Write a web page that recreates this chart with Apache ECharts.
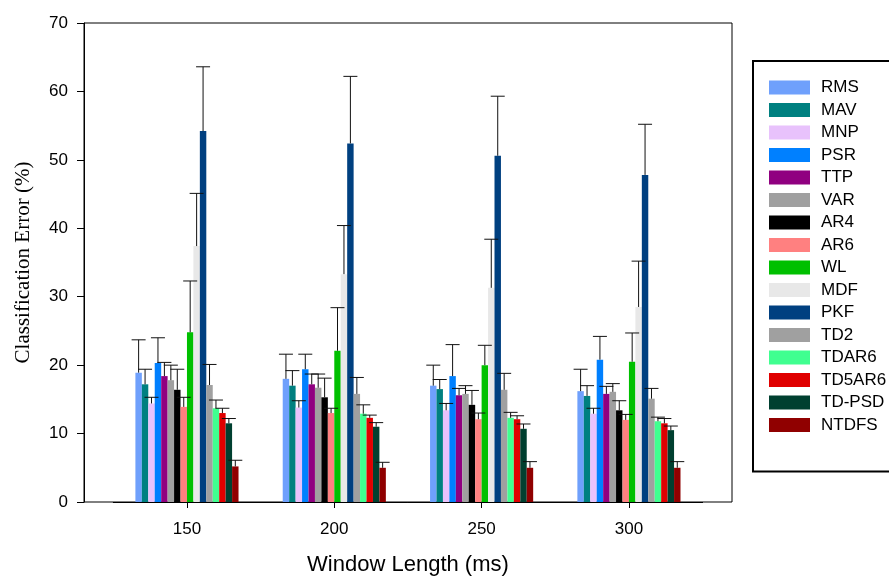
<!DOCTYPE html>
<html>
<head>
<meta charset="utf-8">
<script src="https://cdn.jsdelivr.net/npm/echarts@6/dist/echarts.min.js"></script>
<style>
html,body{margin:0;padding:0;background:#fff;}
#chart{width:889px;height:583px;}
</style>
</head>
<body>
<div id="chart"></div>
<script>
// ---- data ----
const categories = ['150', '200', '250', '300'];
const featureNames = ['RMS','MAV','MNP','PSR','TTP','VAR','AR4','AR6','WL','MDF','PKF','TD2','TDAR6','TD5AR6','TD-PSD','NTDFS'];
// mean classification error (%) per window length
const RMS    = [18.9, 18.0, 17.0, 16.2];
const MAV    = [17.2, 17.0, 16.5, 15.5];
const MNP    = [14.4, 13.8, 13.4, 12.9];
const PSR    = [20.3, 19.4, 18.4, 20.8];
const TTP    = [18.4, 17.2, 15.6, 15.8];
const VAR    = [17.8, 16.7, 15.8, 16.1];
const AR4    = [16.4, 15.3, 14.2, 13.4];
const AR6    = [13.9, 13.0, 12.1, 12.0];
const WL     = [24.8, 22.1, 20.0, 20.5];
const MDF    = [37.4, 33.3, 31.3, 28.5];
const PKF    = [54.2, 52.4, 50.6, 47.8];
const TD2    = [17.1, 15.8, 16.4, 15.1];
const TDAR6  = [13.7, 12.9, 12.3, 11.8];
const TD5AR6 = [13.0, 12.3, 12.1, 11.5];
const TDPSD  = [11.5, 11.0, 10.7, 10.5];
const NTDFS  = [5.2, 5.0, 5.0, 5.0];
// error bar (upper) lengths
const RMS_err    = [4.8, 3.6, 3.0, 3.2];
const MAV_err    = [2.2, 2.2, 1.4, 1.5];
const MNP_err    = [0.9, 1.0, 1.0, 0.8];
const PSR_err    = [3.7, 2.2, 4.6, 3.4];
const TTP_err    = [2.0, 1.5, 1.0, 1.1];
const VAR_err    = [2.2, 2.0, 1.2, 1.2];
const AR4_err    = [3.0, 2.8, 2.1, 1.4];
const AR6_err    = [1.4, 0.7, 0.9, 0.8];
const WL_err     = [7.5, 6.3, 2.9, 4.2];
const MDF_err    = [7.7, 7.1, 7.1, 6.7];
const PKF_err    = [9.4, 9.8, 8.7, 7.4];
const TD2_err    = [3.0, 2.4, 2.4, 1.5];
const TDAR6_err  = [1.2, 1.3, 0.8, 0.6];
const TD5AR6_err = [0.7, 0.4, 0.5, 0.7];
const TDPSD_err  = [0.7, 0.6, 0.7, 0.6];
const NTDFS_err  = [0.9, 0.8, 0.9, 0.9];
const yTicks = [0, 10, 20, 30, 40, 50, 60, 70];

const meanSets = [RMS, MAV, MNP, PSR, TTP, VAR, AR4, AR6, WL, MDF, PKF, TD2, TDAR6, TD5AR6, TDPSD, NTDFS];
const errSets  = [RMS_err, MAV_err, MNP_err, PSR_err, TTP_err, VAR_err, AR4_err, AR6_err, WL_err, MDF_err, PKF_err, TD2_err, TDAR6_err, TD5AR6_err, TDPSD_err, NTDFS_err];
const colors = ['#6fa0fc','#008080','#e8c2fc','#0080ff','#900080','#a0a0a0','#000000','#ff8080','#00c000','#e8e8e8','#004080','#a0a0a0','#40ff90','#e00000','#004030','#900000'];

const N = featureNames.length;
const CAT_GAP = 0.30;

const series = [];
featureNames.forEach((name, i) => {
  series.push({
    name: name,
    type: 'bar',
    xAxisIndex: 1, yAxisIndex: 1,
    data: meanSets[i],
    barGap: 0,
    barCategoryGap: (CAT_GAP * 100) + '%',
    itemStyle: { color: colors[i] },
    silent: true,
    z: 2
  });
});
featureNames.forEach((name, i) => {
  series.push({
    name: 'err-' + name,
    type: 'custom',
    xAxisIndex: 1, yAxisIndex: 1,
    data: meanSets[i].map((m, k) => [k, m, errSets[i][k]]),
    silent: true,
    z: 3,
    renderItem: function (params, api) {
      const c = api.coord([api.value(0), api.value(1)]);
      const t = api.coord([api.value(0), api.value(1) + api.value(2)]);
      const band = api.size([1, 0])[0];
      const bw = band * (1 - CAT_GAP) / N;
      const x = c[0] + (i - (N - 1) / 2) * bw;
      const capHalf = 7;
      const st = { stroke: '#111', lineWidth: 1 };
      return {
        type: 'group',
        children: [
          { type: 'line', shape: { x1: x, y1: c[1], x2: x, y2: t[1] }, style: st },
          { type: 'line', shape: { x1: x - capHalf, y1: t[1], x2: x + capHalf, y2: t[1] }, style: st }
        ]
      };
    }
  });
});

const chart = echarts.init(document.getElementById('chart'), null, { renderer: 'canvas' });
chart.setOption({
  animation: false,
  backgroundColor: '#fff',
  textStyle: { fontFamily: 'Liberation Sans, Arial, sans-serif' },
  grid: [
    { left: 84, top: 23, width: 648, height: 479, show: true, borderColor: '#000', borderWidth: 1, backgroundColor: 'transparent' },
    { left: 113.3, top: 23, width: 589.3, height: 479 }
  ],
  xAxis: [
    { type: 'value', gridIndex: 0, show: false, min: 0, max: 1 },
    {
      type: 'category', gridIndex: 1, data: categories,
      axisLine: { show: true, lineStyle: { color: '#000', width: 1 } },
      axisTick: { show: true, alignWithLabel: true, length: 6, lineStyle: { color: '#000' } },
      axisLabel: { color: '#000', fontSize: 17, margin: 19 },
      name: 'Window Length (ms)', nameLocation: 'middle', nameGap: 52,
      nameTextStyle: { color: '#000', fontSize: 22 }
    }
  ],
  yAxis: [
    { type: 'value', gridIndex: 0, show: false, min: 0, max: 1 },
    {
      type: 'value', gridIndex: 1, min: yTicks[0], max: yTicks[yTicks.length - 1], interval: 10,
      offset: 29.3,
      axisLine: { show: true, lineStyle: { color: '#000', width: 1 } },
      axisTick: { show: true, length: 7, lineStyle: { color: '#000' } },
      axisLabel: { color: '#000', fontSize: 17, margin: 16 },
      splitLine: { show: false },
      name: 'Classification Error (%)', nameLocation: 'middle', nameGap: 50,
      nameTextStyle: { color: '#000', fontSize: 21, fontFamily: 'Liberation Serif, Times New Roman, serif' }
    }
  ],
  legend: {
    data: featureNames,
    orient: 'vertical',
    left: 753, top: 61,
    icon: 'rect',
    itemWidth: 41, itemHeight: 14, itemGap: 5.5,
    padding: [18, 80, 38, 16],
    borderColor: '#000', borderWidth: 2,
    backgroundColor: '#fff',
    selectedMode: false,
    textStyle: { color: '#000', fontSize: 17, padding: [0, 0, 0, 6], fontFamily: 'Liberation Sans, Arial, sans-serif' }
  },
  series: series
});
</script>
</body>
</html>
